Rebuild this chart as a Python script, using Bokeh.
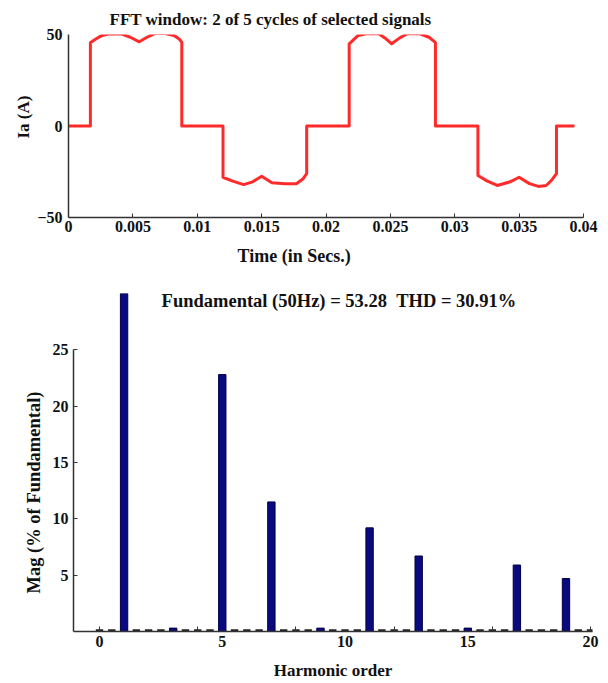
import numpy as np
from bokeh.plotting import figure
from bokeh.models import Label, FixedTicker, Range1d, Title
from bokeh.embed import file_html
from bokeh.resources import INLINE

# ---------------- data ----------------
# Phase-a current waveform (time in s, current in A)
t_sec = [0.0, 0.0017, 0.0017, 0.0020, 0.0026, 0.0032, 0.0041, 0.0048, 0.0055, 0.0061,
         0.0067, 0.0075, 0.0082, 0.0086, 0.0088, 0.0088, 0.0120, 0.0120, 0.0127, 0.0136,
         0.0143, 0.0150, 0.0158, 0.0168, 0.0177, 0.0182, 0.0185, 0.0185, 0.0218, 0.0218,
         0.0225, 0.0231, 0.0241, 0.0246, 0.0251, 0.0257, 0.0263, 0.0273, 0.0280, 0.0284,
         0.0285, 0.0285, 0.0318, 0.0318, 0.0325, 0.0333, 0.0343, 0.0350, 0.0358, 0.0365,
         0.0371, 0.0375, 0.0379, 0.0379, 0.0393]
ia_amp = [0.0, 0.0, 45.5, 47.0, 49.5, 50.4, 50.3, 48.5, 46.0, 48.5,
          50.5, 50.5, 49.5, 47.5, 45.8, 0.0, 0.0, -28.0, -30.0, -32.0,
          -30.5, -27.5, -31.0, -31.6, -31.6, -29.0, -26.0, 0.0, 0.0, 44.9,
          49.5, 50.4, 50.4, 48.0, 44.9, 48.0, 50.4, 50.4, 48.5, 46.2,
          45.5, 0.0, 0.0, -27.0, -30.0, -32.5, -30.5, -28.0, -31.5, -33.0,
          -32.5, -29.8, -26.0, 0.0, 0.0]

# Harmonic spectrum (% of fundamental), bins every half order from 0 to 20
harm_order = [0, 0.5, 1, 1.5, 2, 2.5, 3, 3.5, 4, 4.5, 5, 5.5, 6, 6.5, 7, 7.5, 8, 8.5, 9, 9.5,
              10, 10.5, 11, 11.5, 12, 12.5, 13, 13.5, 14, 14.5, 15, 15.5, 16, 16.5, 17, 17.5,
              18, 18.5, 19, 19.5, 20]
harm_mag = [0, 0, 100, 0, 0, 0, 0.3, 0, 0, 0, 22.8, 0, 0, 0, 11.5, 0, 0, 0, 0.3, 0,
            0, 0, 9.2, 0, 0, 0, 6.7, 0, 0, 0, 0.3, 0, 0, 0, 5.9, 0,
            0, 0, 4.7, 0, 0]

time_ticks = [0, 0.005, 0.01, 0.015, 0.02, 0.025, 0.03, 0.035, 0.04]
time_tick_labels = ["0", "0.005", "0.01", "0.015", "0.02", "0.025", "0.03", "0.035", "0.04"]
ia_ticks = [-50, 0, 50]
harm_ticks = [0, 5, 10, 15, 20]
harm_minor = [0, 4, 8, 12, 16, 20]
mag_ticks = [5, 10, 15, 20, 25]

top_title = "FFT window: 2 of 5 cycles of selected signals"
bottom_title = "Fundamental (50Hz) = 53.28\u00a0\u00a0THD = 30.91%"

FONT = "Liberation Serif"
RED = "#ff2b2b"
NAVY = "#0a0a80"
TXT = "#111111"


def style_axes(p):
    for ax in (p.xaxis[0], p.yaxis[0]):
        ax.axis_line_color = "#333333"
        ax.axis_line_width = 1.5
        ax.major_tick_line_color = "#333333"
        ax.minor_tick_line_color = "#333333"
        ax.major_label_text_font = FONT
        ax.major_label_text_font_style = "bold"
        ax.major_label_text_font_size = "16px"
        ax.major_label_text_color = TXT
        ax.axis_label_text_font = FONT
        ax.axis_label_text_font_style = "bold"
        ax.axis_label_text_color = TXT
    p.grid.visible = False
    p.outline_line_color = None
    p.background_fill_color = "white"
    p.border_fill_color = "white"


def title(p, text, place, size, offset, standoff, align="left"):
    p.add_layout(Title(text=text, align=align, offset=offset, standoff=standoff,
                       text_font=FONT, text_font_style="bold", text_font_size=size,
                       text_color=TXT), place)


# ---------------- top: waveform ----------------
p1 = figure(width=608, height=275, output_backend="svg", toolbar_location=None,
            x_range=Range1d(0, 0.04), y_range=Range1d(-50, 50),
            min_border_left=68, min_border_right=25, min_border_top=34, min_border_bottom=58)
style_axes(p1)
p1.line(t_sec, ia_amp, line_color=RED, line_width=3, line_join="round")

p1.xaxis.ticker = FixedTicker(ticks=time_ticks, minor_ticks=[])
p1.xaxis.major_label_overrides = {t: s for t, s in zip(time_ticks, time_tick_labels)}
p1.xaxis.major_tick_in = 4
p1.xaxis.major_tick_out = 0
p1.xaxis.major_label_standoff = 3
p1.yaxis.ticker = FixedTicker(ticks=ia_ticks, minor_ticks=[])
p1.yaxis.major_tick_in = 0
p1.yaxis.major_tick_out = 0
p1.yaxis.major_label_standoff = 6

title(p1, top_title, "above", "17px", 41, 12)
title(p1, "Ia (A)", "left", "17px", 79, 4)
title(p1, "Time (in Secs.)", "below", "18px", 169, 19)

# ---------------- bottom: harmonic spectrum ----------------
p2 = figure(width=608, height=408, output_backend="svg", toolbar_location=None,
            x_range=Range1d(-1.06, 20.08), y_range=Range1d(0, 30),
            min_border_left=73, min_border_right=16, min_border_top=18, min_border_bottom=52)
style_axes(p2)

orders = np.array(harm_order, dtype=float)
p2.segment(x0=orders - 0.15, x1=orders + 0.15, y0=[0.12] * len(orders), y1=[0.12] * len(orders),
           line_color="#222222", line_width=2)
p2.vbar(x=harm_order, top=harm_mag, width=0.3, bottom=0,
        fill_color=NAVY, line_color="#000040", line_width=1)

p2.xaxis.ticker = FixedTicker(ticks=harm_ticks, minor_ticks=harm_minor)
p2.xaxis.major_tick_in = 0
p2.xaxis.major_tick_out = 0
p2.xaxis.minor_tick_in = 5
p2.xaxis.minor_tick_out = 0
p2.xaxis.major_label_standoff = 4
p2.xaxis.axis_label = "Harmonic order"
p2.xaxis.axis_label_text_font_size = "17px"
p2.xaxis.axis_label_standoff = 11
p2.yaxis.ticker = FixedTicker(ticks=mag_ticks, minor_ticks=[])
p2.yaxis.bounds = (0, 25)
p2.yaxis.major_tick_in = 4
p2.yaxis.major_tick_out = 0
p2.yaxis.major_label_standoff = 5

p2.add_layout(Label(x=9.75, y=29.37, text=bottom_title, text_align="center",
                    text_baseline="middle", text_font=FONT, text_font_style="bold",
                    text_font_size="18.5px", text_color=TXT))
title(p2, "Mag (% of Fundamental)", "left", "18.5px", 38, 12)

open("out.html", "w").write(file_html([p1, p2], INLINE))
